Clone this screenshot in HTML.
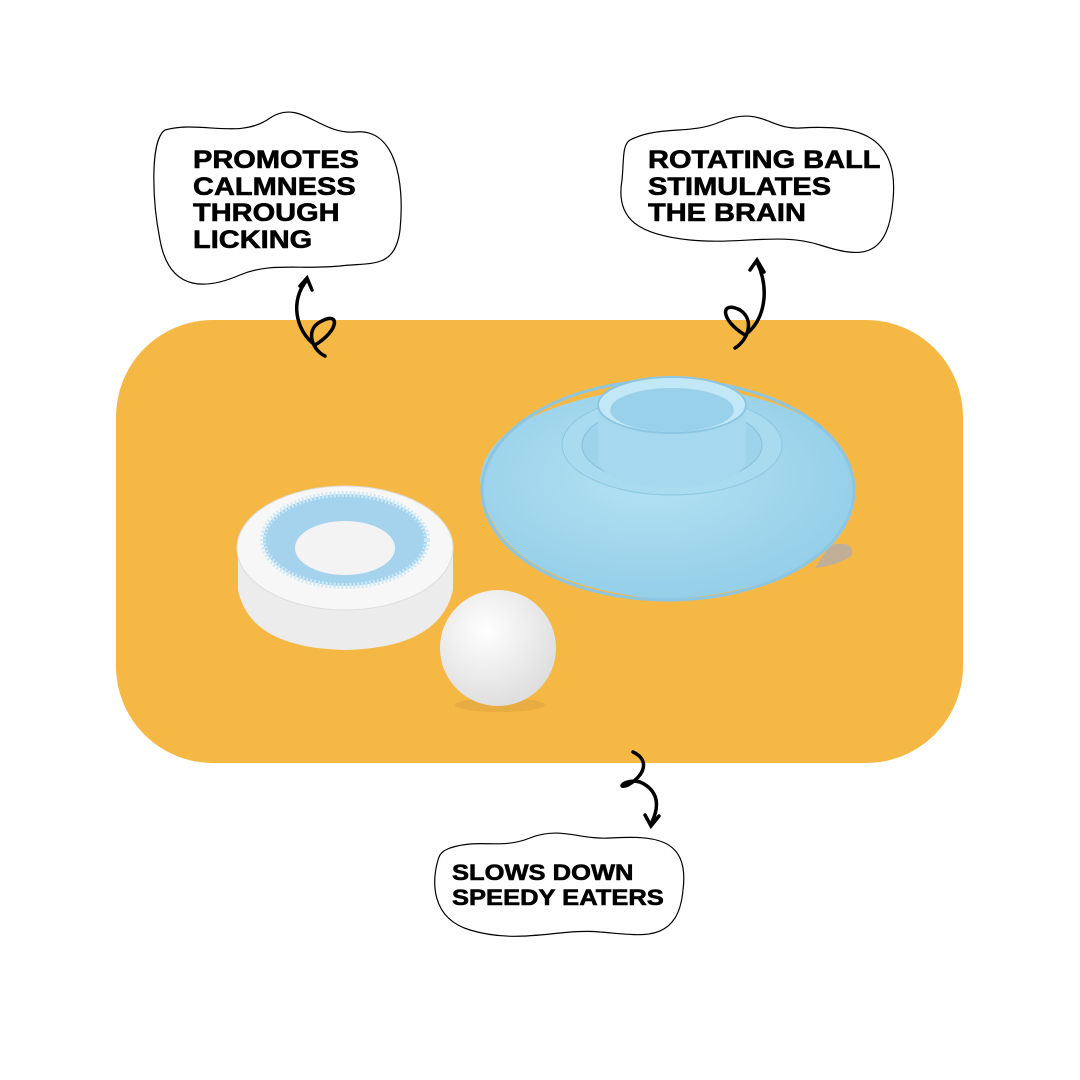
<!DOCTYPE html>
<html><head><style>
body{margin:0;width:1080px;height:1080px;background:#fff;overflow:hidden;position:relative;font-family:"Liberation Sans",sans-serif}
.t{position:absolute;font-weight:900;font-size:25px;line-height:26.5px;color:#000;transform-origin:0 0;transform:scaleX(1.16);white-space:nowrap;-webkit-text-stroke:0.6px #000}
</style></head><body>
<svg width="1080" height="1080" style="position:absolute;left:0;top:0">
<defs>
<radialGradient id="bl" cx="0.45" cy="0.4" r="0.7"><stop offset="0" stop-color="#b4e2f4"/><stop offset="1" stop-color="#8fcbe6"/></radialGradient>
<radialGradient id="ball" cx="0.4" cy="0.35" r="0.7"><stop offset="0" stop-color="#fff"/><stop offset="1" stop-color="#dcdcdc"/></radialGradient>
</defs>
<rect x="116" y="320" width="847" height="443" rx="97" fill="#F6B845"/>
<path d="M165 130 C200 120 240 140 270 118 C300 98 320 135 355 132 C395 128 405 180 400 230 C395 270 370 262 340 266 C300 270 270 262 240 275 C210 288 170 295 160 240 C152 200 150 140 165 130Z" fill="#fff" stroke="#000" stroke-width="1.2"/>
<path d="M630 140 C660 125 690 135 720 122 C760 105 770 130 800 128 C850 125 900 130 893 200 C888 260 860 258 820 245 C780 232 740 245 690 240 C640 235 615 220 622 180 C624 160 622 145 630 140Z" fill="#fff" stroke="#000" stroke-width="1.2"/>
<path d="M450 848 C480 838 500 850 530 838 C560 826 580 840 610 838 C650 836 690 835 683 890 C678 945 640 935 600 932 C560 928 520 945 470 930 C430 918 432 880 438 860 C440 852 445 850 450 848Z" fill="#fff" stroke="#000" stroke-width="1.2"/>
<g fill="none" stroke="#000" stroke-width="3.5" stroke-linecap="round">
<path d="M307 280 C290 300 295 330 315 345 C340 330 340 310 320 322 C305 330 312 350 325 356"/>
<path d="M300 286 L307 278 L312 290"/>
<path d="M757 262 C770 290 765 320 745 335 C720 320 720 300 740 310 C755 320 748 340 735 348"/>
<path d="M750 270 L757 260 L764 272"/>
<path d="M633 752 C650 760 645 775 628 785 C615 790 625 778 640 782 C658 790 660 805 652 822"/>
<path d="M645 815 L651 826 L659 816"/>
</g>
<path d="M830 545 Q855 540 852 555 Q840 565 815 568Z" fill="#aab" opacity="0.7"/>
<path d="M480 480 Q485 420 600 395 L745 395 Q850 420 856 490 Q850 585 668 600 Q490 585 480 480Z" fill="url(#bl)"/>
<ellipse cx="668" cy="490" rx="186" ry="110" fill="none" stroke="#8cc6e2" stroke-width="3"/>
<ellipse cx="672" cy="445" rx="110" ry="50" fill="#a8daf0" stroke="#8cc6e2"/>
<ellipse cx="672" cy="445" rx="90" ry="40" fill="#9dd4ec" stroke="#85c0dd"/>
<rect x="598" y="405" width="148" height="55" fill="#a6d9ef"/>
<ellipse cx="672" cy="460" rx="74" ry="28" fill="#a6d9ef"/>
<ellipse cx="672" cy="405" rx="74" ry="28" fill="#c2e8f7" stroke="#8cc6e2" stroke-width="2"/>
<ellipse cx="672" cy="410" rx="62" ry="22" fill="#9ad1ea"/>
<path d="M238 550 L238 590 Q250 648 345 650 Q440 648 453 590 L453 550Z" fill="#ececec"/>
<ellipse cx="345" cy="548" rx="108" ry="62" fill="#f7f7f7" stroke="#ddd"/>
<ellipse cx="345" cy="540" rx="82" ry="46" fill="#a5d3ee"/>
<ellipse cx="345" cy="540" rx="82" ry="46" fill="none" stroke="#cde9f7" stroke-width="6" stroke-dasharray="2 2"/>
<ellipse cx="345" cy="548" rx="50" ry="27" fill="#f3f3f3"/>
<ellipse cx="500" cy="705" rx="45" ry="7" fill="#d8a040" opacity="0.5"/>
<circle cx="498" cy="648" r="58" fill="url(#ball)"/>
</svg>
<div class="t" style="left:193px;top:147px">PROMOTES<br>CALMNESS<br>THROUGH<br>LICKING</div>
<div class="t" style="left:648px;top:147px">ROTATING BALL<br>STIMULATES<br>THE BRAIN</div>
<div class="t" style="left:452px;top:860px;font-size:22px;line-height:25px">SLOWS DOWN<br>SPEEDY EATERS</div>
</body></html>
